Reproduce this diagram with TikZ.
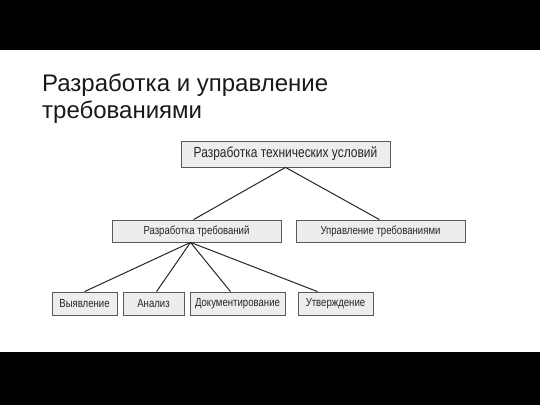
\documentclass[tikz,border=0pt]{standalone}
\usepackage{fontspec}
\setmainfont{Liberation Sans}
\newfontfamily\uzkij[FakeStretch=0.82]{Liberation Sans}
\usetikzlibrary{shadows}

\tikzset{
    blok/.style={draw=black!65, fill=black!7, line width=0.8pt, inner sep=0pt,
        font=\uzkij\fontsize{11.7}{13}\selectfont, text=black!85,
        drop shadow={shadow xshift=1.2pt, shadow yshift=-1.2pt, fill=black!55, opacity=1}},
    svyaz/.style={draw=black!85, line width=1pt}
}

\begin{document}
\begin{tikzpicture}[x=1pt,y=-1pt]
            \useasboundingbox (0,0) rectangle (540,405);
            \fill[black] (0,0) rectangle (540,50);
            \fill[black] (0,352) rectangle (540,405);

            % Title
            \node[anchor=north west, align=left, font=\fontsize{24}{26.5}\selectfont, text=black!90, inner sep=0pt] (zag) at (42,74)
                {Разработка и управление\\требованиями};

            % Boxes
            \node[blok, minimum width=209pt, minimum height=26pt, font=\uzkij\fontsize{14.6}{16}\selectfont] (rtu) at (285.5,154) {Разработка технических условий};
            \node[blok, minimum width=169pt, minimum height=22pt] (rt) at (196.5,231) {Разработка требований};
            \node[blok, minimum width=169pt, minimum height=22pt] (ut) at (380.5,231) {Управление требованиями};

            \node[blok, minimum width=65pt, minimum height=23pt] (vyv) at (84.5,303.5) {Выявление};
            \node[blok, minimum width=61pt, minimum height=23pt] (an) at (153.5,303.5) {Анализ};
            \node[blok, minimum width=95pt, minimum height=23pt] (dok) at (237.5,303.5) {Документирование};
            \node[blok, minimum width=75pt, minimum height=23pt] (utv) at (335.5,303.5) {Утверждение};

            % Connectors
            \draw[svyaz] (rtu.south) -- ([xshift=-3pt]rt.north);
            \draw[svyaz] (rtu.south) -- ([xshift=-1pt]ut.north);

            \coordinate (uzel) at ([xshift=-6pt]rt.south);
            \draw[svyaz] (uzel) -- (vyv.north);
            \draw[svyaz] (uzel) -- ([xshift=3pt]an.north);
            \draw[svyaz] (uzel) -- ([xshift=-7pt]dok.north);
            \draw[svyaz] (uzel) -- ([xshift=-18pt]utv.north);
        \end{tikzpicture}
\end{document}
